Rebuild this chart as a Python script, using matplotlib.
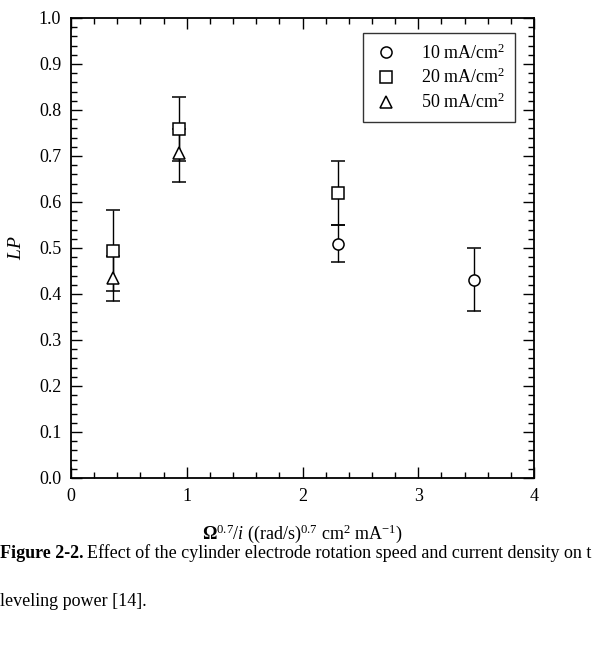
import matplotlib
matplotlib.use("Agg")
import matplotlib.pyplot as plt
import numpy as np
from matplotlib.ticker import MultipleLocator

plt.rcParams['font.family'] = ['Liberation Serif', 'DejaVu Serif']
plt.rcParams['mathtext.fontset'] = 'custom'
plt.rcParams['mathtext.rm'] = 'Liberation Serif'
plt.rcParams['mathtext.it'] = 'Liberation Serif:italic'
plt.rcParams['mathtext.bf'] = 'Liberation Serif:bold'

# data: x, LP, lower/upper ends of the error bar
x_10 = [2.31, 3.48]
lp_10 = [0.509, 0.430]
lo_10 = [0.470, 0.362]
hi_10 = [0.549, 0.499]

x_20 = [0.36, 0.93, 2.31]
lp_20 = [0.493, 0.758, 0.619]
lo_20 = [0.406, 0.689, 0.549]
hi_20 = [0.583, 0.828, 0.689]

x_50 = [0.36, 0.93]
lp_50 = [0.435, 0.706]
lo_50 = [0.384, 0.643]
hi_50 = [0.483, 0.758]

series = [
    (x_10, lp_10, lo_10, hi_10, 'o', '10 mA/cm$^2$'),
    (x_20, lp_20, lo_20, hi_20, 's', '20 mA/cm$^2$'),
    (x_50, lp_50, lo_50, hi_50, '^', '50 mA/cm$^2$'),
]

fig = plt.figure(figsize=(6.04, 6.65), dpi=100)
ax = fig.add_axes([71 / 604, 1 - 478 / 665, 463 / 604, 460 / 665])

for xs, ys, lo, hi, mk, lab in series:
    ys = np.array(ys)
    yerr = [ys - np.array(lo), np.array(hi) - ys]
    ax.errorbar(xs, ys, yerr=yerr, fmt=mk, mfc='white', mec='black',
                ms=8, mew=1.1, ecolor='black', elinewidth=1.0, capsize=5,
                capthick=1.0, color='black', label=lab, zorder=3)

ax.set_xlim(0, 4)
ax.set_ylim(0, 1.0)
ax.xaxis.set_major_locator(MultipleLocator(1))
ax.xaxis.set_minor_locator(MultipleLocator(0.2))
ax.yaxis.set_major_locator(MultipleLocator(0.1))
ax.yaxis.set_minor_locator(MultipleLocator(0.02))
ax.tick_params(which='both', direction='in', top=True, right=True,
               labelsize=13, width=1.0)
ax.tick_params(which='major', length=8)
ax.tick_params(which='minor', length=4)
ax.tick_params(axis='y', pad=7)
ax.tick_params(axis='x', pad=7)
for s in ax.spines.values():
    s.set_linewidth(1.3)

ax.set_ylabel('$LP$', fontsize=14, labelpad=10)
ax.set_xlabel(r'$\mathbf{\Omega}^{0.7}/i$ ((rad/s)$^{0.7}$ cm$^2$ mA$^{-1}$)',
              fontsize=13, labelpad=13)

handles, labels = ax.get_legend_handles_labels()
handles = [h[0] for h in handles]
leg = ax.legend(handles, labels, loc='upper right',
                bbox_to_anchor=(0.96, 0.967), borderaxespad=0,
                fontsize=13, frameon=True, fancybox=False, edgecolor='black',
                handletextpad=1.2, borderpad=0.55, labelspacing=0.3,
                handlelength=1.5)
leg.get_frame().set_linewidth(1.0)

# caption below the chart (the source page cuts line 1 at the right edge)
t1 = fig.text(0.0, 1 - 553 / 665, 'Figure 2-2.', fontsize=13,
              fontweight='bold', va='center', ha='left')
fig.canvas.draw()
bb = t1.get_window_extent()
fig.text(bb.x1 / fig.bbox.width + 0.006, 1 - 553 / 665,
         'Effect of the cylinder electrode rotation speed and current density on t',
         fontsize=13, va='center', ha='left')
fig.text(0.0, 1 - 601 / 665, 'leveling power [14].', fontsize=13,
         va='center', ha='left')

fig.savefig('out.png', dpi=100)
